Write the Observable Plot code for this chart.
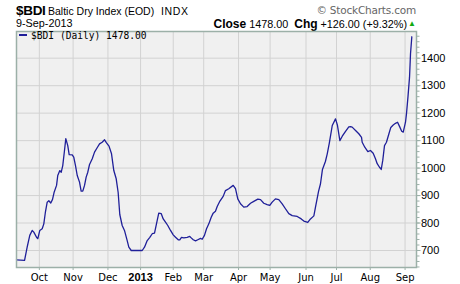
<!DOCTYPE html>
<html><head><meta charset="utf-8">
<script src="https://cdn.jsdelivr.net/npm/d3@7"></script>
<script src="https://cdn.jsdelivr.net/npm/@observablehq/plot@0.6"></script>
<style>
body{margin:0;background:#fff;}
#wrap{position:relative;width:460px;height:284px;overflow:hidden;font-family:"Liberation Sans",Arial,sans-serif;color:#000;}
.h{position:absolute;white-space:nowrap;line-height:1;}
#chart{position:absolute;left:0;top:30px;}
#legend{position:absolute;left:19px;top:31px;font-family:"DejaVu Sans Mono",monospace;font-size:9.6px;line-height:1;white-space:nowrap;color:#000;}
#legend .sw{display:inline-block;width:8px;height:2px;background:#1f1f99;vertical-align:middle;margin-right:4px;position:relative;top:-1px;}
</style></head><body>
<div id="wrap">
  <div class="h" id="sym" style="left:16px;top:4px;font-size:13.5px;font-weight:bold;letter-spacing:-0.3px;"></div>
  <div class="h" id="name" style="left:48px;top:5.5px;font-size:10.5px;"></div>
  <div class="h" id="exch" style="left:161px;top:5.5px;font-size:10.5px;letter-spacing:0.6px;"></div>
  <div class="h" style="right:44px;top:5px;font-size:10.5px;color:#666;font-family:'DejaVu Sans',Verdana,sans-serif;letter-spacing:-0.2px;">© StockCharts.com</div>
  <div class="h" id="date" style="left:16px;top:17.5px;font-size:10.8px;"></div>
  <div class="h" id="quote" style="right:53px;top:17.5px;font-size:10.8px;"></div>
  <div class="h" style="left:408px;top:19.5px;font-size:8px;color:#11aa11;">▲</div>
  <div id="chart"></div>
  <div id="legend"><span class="sw"></span><span id="legtext"></span></div>
</div>
<script>
// ---- data ----
const symbol = "$BDI";
const indexName = "Baltic Dry Index (EOD)";
const exchange = "INDX";
const lastDateLabel = "9-Sep-2013";
const lastClose = 1478.00;
const change = 126.00;
const changePct = 9.32;

const startDate = "2012-09-10"; // first trading day shown
// days since startDate
const dayOffsets = [0, 7.4, 9.8, 12.2, 14.4, 15.9, 18.4, 19.6, 21.4, 23.6, 25.1, 26.6, 28.2, 29.7, 31.5, 33.1, 34.5, 36.8, 37.9, 39.8,
  41.1, 42.5, 44.1, 45.3, 47.1, 48.4, 51.2, 52.6, 54.2, 55.8, 57.9, 59.4, 60.9, 62.5, 64.0, 65.5, 67.1, 69.6, 71.7, 74.1,
  76.3, 78.7, 80.9, 82.7, 85.0, 87.3, 89.4, 91.6, 93.4, 94.9, 97.1, 99.2, 101.7, 103.2, 105.4, 115.5, 117.6, 120.1, 122.5, 124.7,
  126.8, 128.6, 130.7, 133.0, 134.8, 136.9, 139.0, 141.5, 144.0, 146.1, 148.6, 150.0, 151.6, 153.7, 156.8, 159.2, 160.5, 162.4, 164.5, 166.6,
  169.1, 170.6, 172.7, 174.6, 176.7, 178.9, 180.7, 182.8, 184.4, 186.9, 189.9, 192.0, 195.0, 199.1, 201.2, 203.3, 205.8, 208.8, 211.9, 215.0,
  218.0, 221.7, 224.2, 227.2, 230.3, 232.7, 234.9, 237.9, 241.0, 244.1, 247.1, 250.2, 253.3, 257.9, 261.6, 264.0, 267.6, 270.1, 273.2, 274.7,
  277.5, 279.3, 281.1, 283.8, 285.5, 287.4, 290.1, 293.1, 294.8, 297.1, 299.3, 302.3, 305.3, 306.9, 308.4, 311.5, 314.5, 317.0, 317.6, 320.0,
  322.8, 325.2, 327.7, 329.8, 331.4, 333.5, 335.1, 336.5, 338.1, 339.9, 342.1, 343.9, 346.1, 348.2, 350.1, 352.1, 353.9, 355.3, 357.4, 358.3,
  359.7, 361.1, 362.0, 363.2];
const closes = [666, 664, 712, 755, 773, 767, 748, 743, 773, 779, 797, 841, 876, 881, 873, 886, 911, 937, 973, 991,
  985, 1009, 1064, 1107, 1082, 1049, 1048, 1040, 1009, 973, 949, 916, 916, 937, 967, 985, 1013, 1034, 1058, 1074,
  1088, 1094, 1103, 1092, 1080, 1052, 991, 961, 911, 831, 791, 773, 736, 712, 700, 700, 712, 736, 748, 761,
  763, 797, 836, 834, 815, 803, 791, 773, 757, 748, 739, 739, 748, 746, 748, 751, 746, 739, 735, 739,
  744, 741, 755, 779, 797, 821, 836, 843, 860, 880, 897, 918, 925, 937, 925, 888, 870, 858, 860, 872,
  879, 887, 885, 872, 867, 864, 876, 888, 885, 870, 852, 834, 827, 824, 815, 807, 802, 815, 826, 858,
  915, 943, 995, 1024, 1052, 1091, 1155, 1179, 1157, 1100, 1116, 1134, 1150, 1151, 1149, 1137, 1125, 1112, 1094, 1076,
  1060, 1064, 1054, 1034, 1016, 1003, 995, 1028, 1082, 1094, 1124, 1148, 1157, 1163, 1167, 1150, 1134, 1131, 1167, 1198,
  1261, 1331, 1416, 1478];

const monthTickDates = ["2012-10-01", "2012-11-01", "2012-12-03", "2013-01-02", "2013-02-01", "2013-03-01",
  "2013-04-02", "2013-05-01", "2013-06-03", "2013-07-01", "2013-08-01", "2013-09-02"];
const monthTickLabels = ["Oct", "Nov", "Dec", "2013", "Feb", "Mar", "Apr", "May", "Jun", "Jul", "Aug", "Sep"];
const yTickValues = [700, 800, 900, 1000, 1100, 1200, 1300, 1400];
const yMinorTicks = d3.range(640, 1500, 20);

// ---- header text ----
document.getElementById("sym").textContent = symbol;
document.getElementById("name").textContent = indexName;
document.getElementById("exch").textContent = exchange;
document.getElementById("date").textContent = lastDateLabel;
const q = document.getElementById("quote");
q.innerHTML = "";
const addSpan = (t, bold) => { const s = document.createElement("span"); s.textContent = t; s.style.whiteSpace = "pre"; if (bold) { s.style.fontWeight = "bold"; s.style.fontSize = "12px"; } q.appendChild(s); };
addSpan("Close", true);
addSpan(" " + lastClose.toFixed(2) + "  ", false);
addSpan("Chg", true);
addSpan(" +" + change.toFixed(2) + " (+" + changePct.toFixed(2) + "%)", false);
document.getElementById("legtext").textContent = symbol + " (Daily) " + lastClose.toFixed(2);

// ---- build data ----
const DAY = 864e5;
const t0 = new Date(startDate + "T00:00:00Z").getTime();
const data = dayOffsets.map((d, i) => ({date: new Date(t0 + d * DAY), close: closes[i]}));
const tickDates = monthTickDates.map(s => new Date(s + "T00:00:00Z"));
const labelOf = new Map(tickDates.map((d, i) => [+d, monthTickLabels[i]]));
const janTicks = tickDates.filter((d, i) => monthTickLabels[i] === "2013");
const otherTicks = tickDates.filter((d, i) => monthTickLabels[i] !== "2013");

const chart = Plot.plot({
  width: 460,
  height: 254,
  marginTop: 1,
  marginBottom: 17,
  marginLeft: 16,
  marginRight: 44,
  style: {background: "transparent", fontFamily: "'Liberation Sans', Arial, sans-serif", overflow: "visible"},
  x: {type: "utc", domain: [new Date(t0), new Date(t0 + 367.5 * DAY)], label: null},
  y: {domain: [638.1, 1497.2], label: null},
  marks: [
    Plot.frame({fill: "#f0f0f0", stroke: null}),
    Plot.gridX(tickDates, {stroke: "#d2d2d2", strokeOpacity: 1, strokeWidth: 1}),
    Plot.gridY(yTickValues, {stroke: "#d2d2d2", strokeOpacity: 1, strokeWidth: 1}),
    Plot.line(data, {x: "date", y: "close", stroke: "#1f1f99", strokeWidth: 1.3, curve: "linear"}),
    Plot.frame({stroke: "#9cb0a8", strokeWidth: 1.5}),
    Plot.axisX(otherTicks, {anchor: "bottom", label: null, tickSize: 3, tickPadding: 3, stroke: "#9cb0a8", tickFormat: d => labelOf.get(+d),
      fontSize: 10, fontFamily: "'DejaVu Sans', Verdana, sans-serif", fill: "#000", letterSpacing: "0.6px"}),
    Plot.axisX(janTicks, {anchor: "bottom", label: null, tickSize: 3, tickPadding: 3, stroke: "#9cb0a8", tickFormat: d => labelOf.get(+d),
      fontSize: 11, fontWeight: "bold", fontFamily: "'Liberation Sans', Arial, sans-serif", fill: "#000"}),
    Plot.axisY(yMinorTicks, {anchor: "right", label: null, tickSize: 2.5, stroke: "#9cb0a8", tickFormat: () => ""}),
    Plot.axisY(yTickValues, {anchor: "right", label: null, tickSize: 3.5, tickPadding: 1, stroke: "#9cb0a8", tickFormat: d => String(d),
      fontSize: 11, fill: "#000", fontFamily: "'Liberation Sans', Arial, sans-serif"})
  ]
});
document.getElementById("chart").appendChild(chart);
</script>
</body></html>
